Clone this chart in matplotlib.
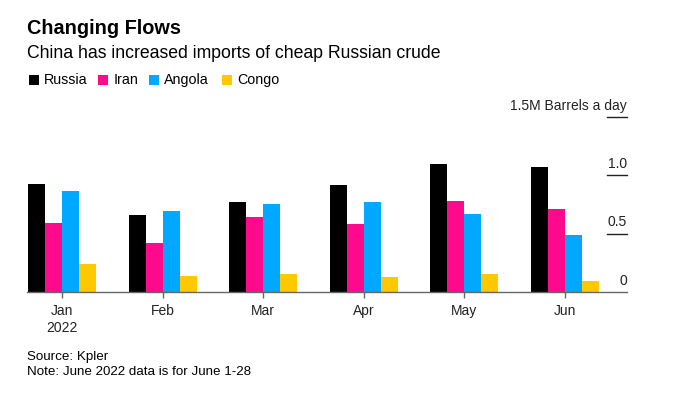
import numpy as np
import matplotlib
matplotlib.use("Agg")
import matplotlib.pyplot as plt
from matplotlib.patches import Rectangle

plt.rcParams['font.family'] = ['Liberation Sans', 'DejaVu Sans']

months = ['Jan\n2022', 'Feb', 'Mar', 'Apr', 'May', 'Jun']
russia = [0.93, 0.66, 0.77, 0.92, 1.10, 1.07]
iran = [0.59, 0.42, 0.64, 0.58, 0.78, 0.71]
angola = [0.87, 0.69, 0.755, 0.77, 0.67, 0.49]
congo = [0.24, 0.136, 0.153, 0.124, 0.153, 0.09]
series = ['Russia', 'Iran', 'Angola', 'Congo']
colors = ['#000000', '#ff0a8c', '#00a8ff', '#ffc800']
yticks = [0, 0.5, 1.0, 1.5]
ytick_labels = ['0', '0.5', '1.0', '1.5M Barrels a day']

W, H = 679, 399
fig = plt.figure(figsize=(W / 100, H / 100), dpi=100)
ax = fig.add_axes([27 / W, (H - 291.7) / H, 600 / W, (291.7 - 117.3) / H])

x = np.arange(len(months))
bw = 0.17
for i, (vals, c) in enumerate(zip([russia, iran, angola, congo], colors)):
    ax.bar(x + (i - 1.5) * bw, vals, width=bw, color=c, linewidth=0, zorder=2)

ax.set_xlim(-0.35, 5.62)
ax.set_ylim(0, 1.5)
for s in ['top', 'right', 'left']:
    ax.spines[s].set_visible(False)
ax.spines['bottom'].set_color('#666666')
ax.spines['bottom'].set_linewidth(1.0)
ax.set_yticks([])
ax.set_xticks(x)
ax.set_xticklabels(months, fontsize=10, color='#222222', linespacing=1.3)
ax.tick_params(axis='x', length=4, width=1, color='#666666', pad=5)

# short gridlines at the right, labels sit above them
for v, lab in zip(yticks, ytick_labels):
    if v > 0:
        ax.plot([5.42, 5.62], [v, v], color='#222222', lw=1, clip_on=False, zorder=3)
    ax.text(5.62, v + 0.035, lab, ha='right', va='bottom', fontsize=10, color='#222222')

fig.text(27 / W, 1 - 28 / H, 'Changing Flows', fontsize=14.3, fontweight='bold', va='center', ha='left')
fig.text(27 / W, 1 - 53 / H, 'China has increased imports of cheap Russian crude', fontsize=12.7,
         va='center', ha='left')

# legend
lx = [29.3, 98.3, 149.3, 222.3]
for name, c, px in zip(series, colors, lx):
    fig.patches.append(Rectangle((px / W, 1 - 84.7 / H), 10 / W, 9.4 / H, transform=fig.transFigure,
                                 color=c, linewidth=0))
    fig.text((px + 15) / W, 1 - 80 / H, name, fontsize=10.3, va='center', ha='left')

fig.text(27 / W, 1 - 357 / H, 'Source: Kpler', fontsize=9.6, va='center', ha='left')
fig.text(27 / W, 1 - 372 / H, 'Note: June 2022 data is for June 1-28', fontsize=9.6, va='center', ha='left')

fig.savefig('out.png', dpi=100, facecolor='white')
